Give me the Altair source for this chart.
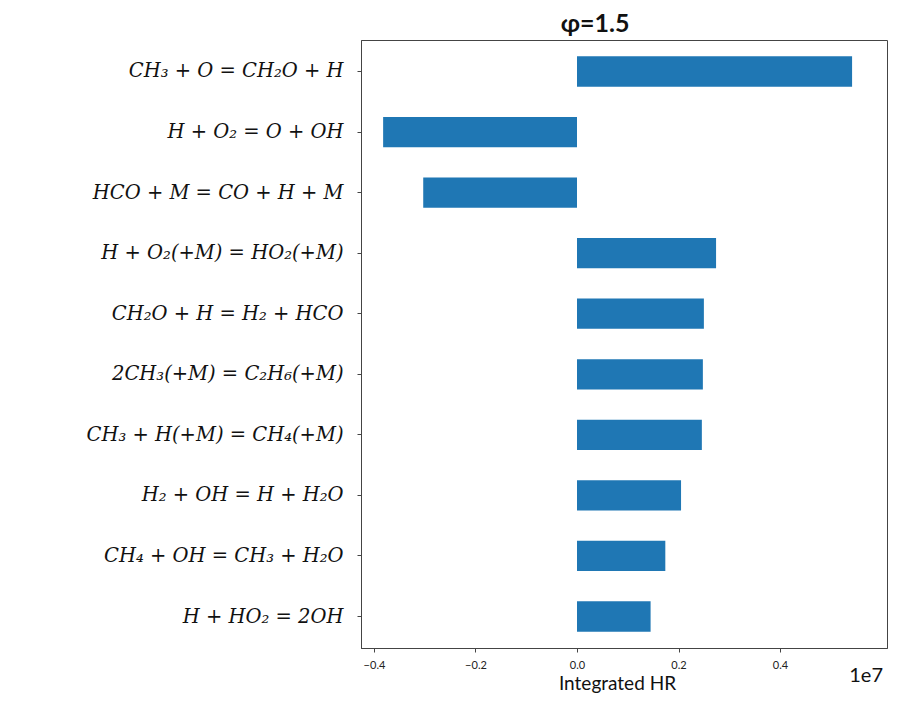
import altair as alt
import pandas as pd

reactions = [
    "CH₃ + O = CH₂O + H",
    "H + O₂ = O + OH",
    "HCO + M = CO + H + M",
    "H + O₂(+M) = HO₂(+M)",
    "CH₂O + H = H₂ + HCO",
    "2CH₃(+M) = C₂H₆(+M)",
    "CH₃ + H(+M) = CH₄(+M)",
    "H₂ + OH = H + H₂O",
    "CH₄ + OH = CH₃ + H₂O",
    "H + HO₂ = 2OH",
]
integrated_hr = [5.42e6, -3.82e6, -3.03e6, 2.74e6, 2.50e6, 2.48e6, 2.46e6, 2.05e6, 1.74e6, 1.45e6]
tick_values = [-4e6, -2e6, 0, 2e6, 4e6]

df = pd.DataFrame({"reaction": reactions, "hr": integrated_hr})

bars = alt.Chart(df).mark_bar(color="#1f77b4").encode(
    x=alt.X(
        "hr:Q",
        scale=alt.Scale(domain=[-4.256e6, 6.108e6], nice=False, zero=False),
        axis=alt.Axis(
            values=tick_values,
            labelExpr="format(datum.value/1e7, '.1f')",
            grid=False,
            title="Integrated HR",
            titleFont="Lato",
            titleFontSize=19,
            titleFontWeight="normal",
            titleColor="#111",
            titlePadding=4,
            titleX=256,
            labelFont="Lato",
            labelFontSize=11,
            labelColor="#222",
            labelPadding=7,
            tickSize=4,
            tickColor="#444",
            domainColor="#444",
        ),
    ),
    y=alt.Y(
        "reaction:N",
        sort=reactions,
        scale=alt.Scale(paddingInner=0.5, paddingOuter=0.27),
        axis=alt.Axis(
            title=None,
            labelFont="DejaVu Serif",
            labelFontStyle="italic",
            labelFontSize=19.5,
            labelColor="#111",
            labelPadding=14,
            labelLimit=400,
            tickSize=4,
            tickColor="#444",
            domainColor="#444",
        ),
    ),
)

note = alt.Chart(pd.DataFrame({"t": ["1e7"]})).mark_text(
    font="Lato", fontSize=20, color="#111", align="right", baseline="middle"
).encode(x=alt.value(522), y=alt.value(636), text="t:N")

chart = (
    alt.layer(bars, note)
    .properties(
        width=526,
        height=608,
        autosize=alt.AutoSizeParams(type="none"),
        padding={"left": 353, "top": 32, "right": 2, "bottom": 45},
        title=alt.TitleParams(
            "φ=1.5",
            font="Lato",
            fontSize=25,
            fontWeight="bold",
            color="#111",
            anchor="middle",
            dx=-29,
            offset=3,
        ),
    )
    .configure_view(stroke="#444", strokeWidth=1)
)

chart.save("out.html", embed_options={"renderer": "svg", "actions": False})
